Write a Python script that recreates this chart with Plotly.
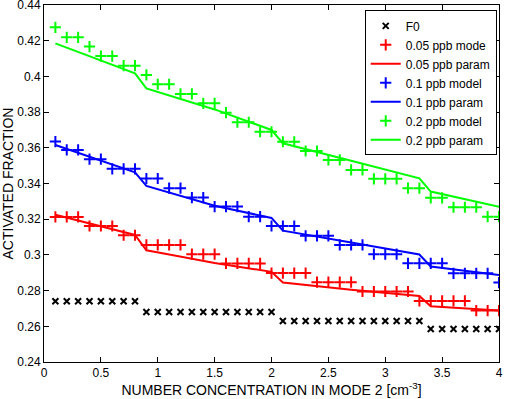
import plotly.graph_objects as go

x_pts = [round(0.1 * i, 1) for i in range(1, 41)]

f0 = [0.274] * 8 + [0.268] * 12 + [0.263] * 13 + [0.2585] * 7

red_model = ([0.3213] * 3 + [0.3162] * 3 + [0.311] * 2 + [0.3056] * 4 +
             [0.3004] * 3 + [0.2952] * 4 + [0.2898] * 4 + [0.2847] * 4 +
             [0.2795] * 5 + [0.2742] * 5 + [0.2688] * 3)
blue_model = ([0.3635] + [0.3588] * 2 + [0.3536] * 2 + [0.3482] * 3 +
              [0.3428] * 2 + [0.3374] * 2 + [0.3321] * 2 + [0.3271] * 3 +
              [0.3214] * 2 + [0.3162] * 3 + [0.3107] * 3 + [0.3056] * 3 +
              [0.3004] * 3 + [0.2953] * 4 + [0.2897] * 4 + [0.2845])
green_model = ([0.4275] + [0.4219] * 2 + [0.4167] + [0.4114] * 2 +
               [0.406] * 2 + [0.4008] + [0.3956] * 2 + [0.3902] * 2 +
               [0.3849] * 2 + [0.3797] + [0.3743] * 2 + [0.369] * 2 +
               [0.3634] * 2 + [0.3582] * 2 + [0.3532] * 2 + [0.3476] * 2 +
               [0.3426] * 3 + [0.3374] * 2 + [0.332] * 2 + [0.3267] * 3 +
               [0.3214] * 2)

x_param = [0.1, 0.8, 0.9, 1.5, 2.0, 2.1, 2.7, 3.3, 3.4, 4.0]
red_param = [0.3225, 0.3112, 0.3026, 0.2955, 0.2905, 0.2845, 0.2805, 0.2770, 0.2712, 0.2688]
blue_param = [0.3616, 0.3463, 0.3386, 0.3275, 0.3207, 0.3136, 0.3070, 0.3002, 0.2935, 0.2888]
green_param = [0.4185, 0.4017, 0.3933, 0.3815, 0.3700, 0.3625, 0.3527, 0.3429, 0.3355, 0.3270]

x_ticks = [0, 0.5, 1, 1.5, 2, 2.5, 3, 3.5, 4]
y_ticks = [0.24, 0.26, 0.28, 0.30, 0.32, 0.34, 0.36, 0.38, 0.40, 0.42, 0.44]
y_labels = ["0.24", "0.26", "0.28", "0.3", "0.32", "0.34", "0.36", "0.38", "0.4", "0.42", "0.44"]

RED, BLUE, GREEN = "#ff0000", "#0000ff", "#00ff00"

fig = go.Figure()
fig.add_trace(go.Scatter(x=x_pts, y=f0, mode="markers", name="F0",
                         marker=dict(symbol="x-thin", size=6, color="black",
                                     line=dict(width=2, color="black"))))
for name_m, name_p, ym, yp, c in [
    ("0.05 ppb mode", "0.05 ppb param", red_model, red_param, RED),
    ("0.1 ppb model", "0.1 ppb param", blue_model, blue_param, BLUE),
    ("0.2 ppb model", "0.2 ppb param", green_model, green_param, GREEN),
]:
    fig.add_trace(go.Scatter(x=x_pts, y=ym, mode="markers", name=name_m,
                             marker=dict(symbol="cross-thin", size=8, color=c,
                                         line=dict(width=2, color=c))))
    fig.add_trace(go.Scatter(x=x_param, y=yp, mode="lines", name=name_p,
                             line=dict(color=c, width=2)))

axis_common = dict(showline=True, linecolor="black", linewidth=1, mirror="ticks",
                   ticks="inside", ticklen=5, tickcolor="black", showgrid=False,
                   zeroline=False, tickfont=dict(size=12, color="black"),
                   ticklabeloverflow="allow", automargin=False)

fig.update_layout(
    width=512, height=399,
    margin=dict(l=44, r=13, t=5, b=37),
    paper_bgcolor="white", plot_bgcolor="white",
    font=dict(family="Liberation Sans, Arial, sans-serif", size=12, color="black"),
    xaxis=dict(range=[0, 4], tickvals=x_ticks,
               title=dict(text="NUMBER CONCENTRATION IN MODE 2 [cm<sup>-3</sup>]",
                          font=dict(size=14), standoff=2),
               **axis_common),
    yaxis=dict(range=[0.24, 0.44], tickvals=y_ticks, ticktext=y_labels,
               title=dict(text="ACTIVATED FRACTION", font=dict(size=14), standoff=4),
               **axis_common),
    legend=dict(x=0.995, y=0.985, xanchor="right", yanchor="top",
                bgcolor="white", bordercolor="black", borderwidth=1,
                font=dict(size=12), tracegroupgap=0, itemwidth=30),
    showlegend=True,
)

fig.write_html("out.html")
